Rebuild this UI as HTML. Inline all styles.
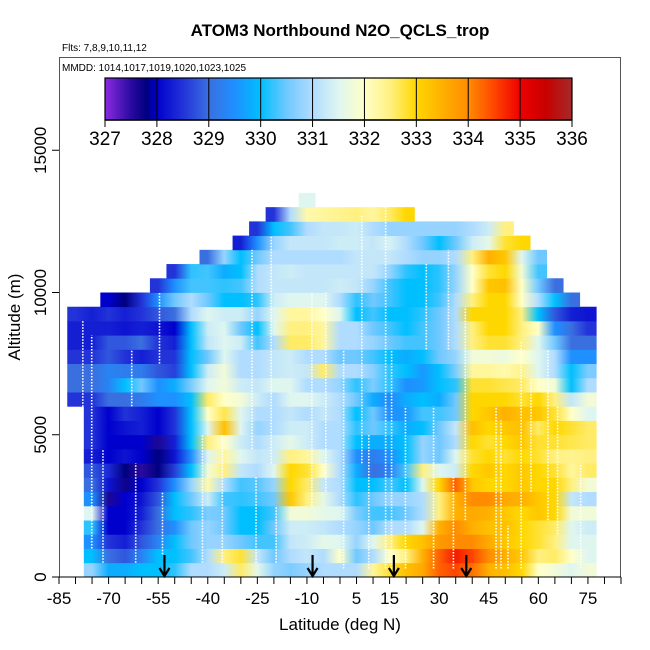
<!DOCTYPE html>
<html><head><meta charset="utf-8"><style>
html,body{margin:0;padding:0;background:#fff;}
svg{display:block;font-family:"Liberation Sans",Arial,sans-serif;}
</style></head><body>
<svg id="chart" width="650" height="650" viewBox="0 0 650 650" xmlns="http://www.w3.org/2000/svg">
<defs id="defs"><linearGradient id="cbgrad" x1="0" x2="1" y1="0" y2="0"></linearGradient></defs>
<rect width="650" height="650" fill="#fff"/>
<text x="340" y="36" text-anchor="middle" font-size="17" font-weight="bold">ATOM3 Northbound N2O_QCLS_trop</text>
<text x="62" y="51" font-size="10">Flts: 7,8,9,10,11,12</text>
<text x="62" y="71" font-size="10">MMDD: 1014,1017,1019,1020,1023,1025</text>
<g id="cells"></g>
<g id="tracks"></g>
<g id="arrows"></g>
<rect x="59.5" y="57.5" width="561" height="519.5" fill="none" stroke="#555" stroke-width="1"/>
<g id="xaxis"></g>
<g id="yaxis"></g>
<text x="340" y="630" text-anchor="middle" font-size="17">Latitude (deg N)</text>
<text x="20" y="317" text-anchor="middle" font-size="17" transform="rotate(-90 20 317)">Altitude (m)</text>
<g id="colorbar"></g>
</svg>
<script>
const latCenters = [-80,-75,-70,-65,-60,-55,-50,-45,-40,-35,-30,-25,-20,-15,-10,-5,0,5,10,15,20,25,30,35,40,45,50,55,60,65,70,75];
const altBase = [0,500,1000,1500,2000,2500,3000,3500,4000,4500,5000,5500,6000,6500,7000,7500,8000,8500,9000,9500,10000,10500,11000,11500,12000,12500,13000];
const r00=[null,330.8,329.8,329.8,330,330,330.2,331,331,331.3,332.6,331.6,330.8,330.6,330.8,331,331,331,332.3,332.8,333.3,333.6,334.3,334.5,334.2,333.5,333.3,333,332,331.8,331.5,331.8];
const r01=[null,330,329,328.8,329.3,330,330,330.3,331,332.5,332.8,331.2,330.5,331,331.2,331,332,330.5,331,332,332.5,333.5,334.3,334.8,334.5,334,333.5,333.2,332.5,332.6,332,331.5];
const r02=[null,329.5,328.5,328.3,328.8,329.3,330,330.5,330.8,330.8,330.5,330.3,330.3,331.2,331.3,331.6,331.5,330.8,331.5,332.5,333,333.3,333.8,334,334,333.6,333.2,333,332.8,332.5,331.5,331.5];
const r03=[null,330.2,328,328,328.5,329,329.5,330.5,330.8,330.5,330,330,330.5,331.3,331.3,331.2,331,330.8,330.5,331,331,331.5,333.5,334,333.5,333.3,333.3,333,332.8,332.6,331.5,331.3];
const r04=[null,331.5,328,328,328.3,329,330,330.2,330.6,330.5,330,330,330.3,331.8,331.8,331.6,331.5,330.6,330.3,330.3,330.5,331,332.5,333.5,333.6,333.5,333.2,333,333.2,333,331.8,331.8];
const r05=[null,329.5,327.6,328,328.2,328.8,330,330.5,331.3,330.3,330.2,330.3,330.5,333.2,332.5,331.6,331,330.2,330.5,330.8,330.8,331,332.5,333.5,334,334,333.6,333.5,333.2,333,331.2,331];
const r06=[null,329,328.2,327.7,328,328.5,329.5,330.8,332.2,331,330.3,330.4,330.8,333,332.6,331.2,331,330,330,330.3,330,331.5,333,334.3,333.2,333,333,333.2,333,333,332.5,331.8];
const r07=[null,328.8,328.4,327.8,327.5,327.8,328.6,330,331.8,332.5,331.2,331,331.5,333,332.8,332,331,329.8,329,329.3,330.3,332.5,331.5,331.3,333,333.2,333,333.2,333,332.8,332.3,332.6];
const r08=[null,328.3,328,328.2,328,327.8,328.2,329.5,331.5,332.3,331.5,331.2,331.3,332.5,332.3,331.5,331,329.5,329.2,329.5,330,330.8,330.5,331.5,332.8,333,332.8,333,332.8,332.5,332.4,332.5];
const r09=[null,328.5,328,328,328,327.6,328.3,330,332.5,332,331.3,331,331.3,331.6,331.3,331,331,330,329.8,329.8,330,330.8,330.5,331,333,332.8,333,333.2,332.8,332.8,332.7,332.6];
const r10=[null,328.5,328,328.2,328.3,328,328.5,330,331.5,333.3,331.5,330.8,331,331.3,331.3,331,331,330.2,330.5,330.2,329.8,330,330.5,331.2,333.3,333,333.2,333.3,332.6,333,332.8,332.6];
const r11=[null,328.5,328,328.5,328.3,328,328.5,330,332,332.7,331.5,331,331,331.2,331,331.2,331,330,330.5,329.5,329.6,330.3,330.3,330.5,333,333.2,333.5,333.3,333.2,332.8,332,331.5];
const r12=[328.5,328.5,329,329,329.2,329.5,329.5,330,332.6,332,331.8,331.3,331,331.5,331.5,331.3,331,330.5,329.8,329.4,329.8,330,329.8,330.5,333,333,333,332.8,333,332.5,331.2,331.8];
const r13=[329,329,329.3,330,330.5,329.5,329.8,330.6,331.5,331.8,331.3,331.2,331.5,331.5,331,331,330.8,330.2,330.6,330.2,329.5,329.6,330,330.2,332.8,332.8,332.7,332.6,332,331.8,330,331];
const r14=[329,329,329.3,329.2,329.2,328.8,328.6,330,331.3,331.8,331,331,331.2,331.3,331.2,332.6,331,331,330.7,330.2,330,329.6,330,330.6,332.3,332.3,332.2,332.4,331.5,331,330,330.6];
const r15=[328.5,328.5,328.8,328.5,328.3,328.5,328.5,330,330.5,331.5,331,331,331.2,331.3,331,331,330.5,330.5,330.3,330,329.8,330,330.5,330.8,331.8,331.8,331.7,332,331.5,331,329.5,329.5];
const r16=[328.3,328.3,328.8,328.8,329,328.5,328.3,330,331.2,331.5,331.3,330.3,331,332.6,332.6,332.3,331,331,330.8,330.5,330.3,330.3,330.5,331,332.5,332.8,332.8,332.5,331.5,330.5,329,329];
const r17=[328.3,328.3,328.3,328.2,328.3,328.2,328,330,331.3,331.5,330.5,330,331.5,332.5,332.5,332.3,331,331,330.5,330.3,330,330.3,330.5,331,332.5,333,333,332.5,332,329.5,329,328.5];
const r18=[328.5,328.3,328.5,328.3,328.5,328.8,329,331,331.5,331.3,331.3,330.8,331.5,332.3,332.3,332,331.5,330,330.3,330,330,330.2,330.5,331,333,333,333,332.5,330,328.8,328.3,328.2];
const r19=[null,null,328,327.8,328.5,329.5,330.5,331,330.5,330,330,330.2,331.3,331.5,331.5,331.5,331,330.2,330.5,330.3,330,330,330.3,331,332.5,333,333,332,331,330,329,null];
const r20=[null,null,null,null,null,328.5,329.5,330.3,330.3,330.2,330.3,331,331.2,331.2,331.2,331.2,331.3,331.2,330.8,330.3,330,330,330.2,330.8,332,333.2,333.3,332,330.5,329,null,null];
const r21=[null,null,null,null,null,null,328.5,330.2,330.3,329.8,330,331,331.2,331.3,331.2,331.2,331.2,331.2,331.2,330.8,330.2,330,330.2,330.8,332,332.8,333,331.8,330.3,null,null,null];
const r22=[null,null,null,null,null,null,null,null,329,330.8,330,330.5,331,331,331,331,331,331.2,331.2,331.2,331,330.8,330.8,331,332.5,333.5,333.2,331.5,330.5,null,null,null];
const r23=[null,null,null,null,null,null,null,null,null,null,328.3,329.5,330.8,331.2,331.2,331.2,331.3,331.3,331.2,331.4,331,330.5,330,330.5,331.3,331.6,332.8,333,null,null,null,null];
const r24=[null,null,null,null,null,null,null,null,null,null,null,328.5,330,330.3,331,331.2,331.2,331.3,331,330.8,330.8,330.8,330.8,330.8,331,331.3,332.5,null,null,null,null,null];
const r25=[null,null,null,null,null,null,null,null,null,null,null,null,328.5,331,332.2,332.3,332.4,332.5,332.3,332.6,333,null,null,null,null,null,null,null,null,null,null,null];
const r26=[null,null,null,null,null,null,null,null,null,null,null,null,null,null,331.5,null,null,null,null,null,null,null,null,null,null,null,null,null,null,null,null,null];
const n2oRows=[r00,r01,r02,r03,r04,r05,r06,r07,r08,r09,r10,r11,r12,r13,r14,r15,r16,r17,r18,r19,r20,r21,r22,r23,r24,r25,r26];
const trackLat=[-77.8,-75.1,-71.7,-63,-61.8,-54.6,-53.7,-41.6,-35.6,-25.4,-19.3,-26.6,-20.8,-8.5,-4.3,1.1,6.6,8.7,13.8,15.6,19.8,26.1,28.3,32.8,34.3,37.9,47.2,48.7,50.8,54.8,57.8,62.9,65.8,72.8,78.6];
const trackBot=[500,1000,500,6000,500,7500,800,500,500,500,500,4500,4000,2500,3000,300,4000,300,300,300,300,8000,300,8000,300,2000,300,300,300,300,3000,2000,1500,300,1000];
const trackTop=[9000,8500,4500,8000,4000,10000,3000,5000,5000,3500,2500,11500,12000,10000,10000,8000,12700,5000,13000,8000,6000,11000,6000,11500,3500,9500,6000,5500,1800,8300,7000,8000,6000,4000,7000];
const arrowLat=[-53.1,-8.3,16.3,38.2];
const xTickVals=[-85,-80,-75,-70,-65,-60,-55,-50,-45,-40,-35,-30,-25,-20,-15,-10,-5,0,5,10,15,20,25,30,35,40,45,50,55,60,65,70,75,80,85];
const xLabels=[-85,-70,-55,-40,-25,-10,5,15,30,45,60,75];
const yTicks=[0,5000,10000,15000];
const cbTicks=[327,328,329,330,331,332,333,334,335,336];
const colorStopVals=[327,327.5,327.8,328,328.5,329,329.5,330,330.5,331,331.5,332,332.5,333,333.5,334,334.5,335,335.5,336];
const colorStopHex=["#8a2be2","#2a0aa0","#000080","#0000cd","#2233d8","#3a6fe0","#1e90ff","#00bfff","#70c8ff","#b0dcff","#dff6f0","#ffffc8","#fff080","#ffd700","#ffb000","#ff8c00","#ff4500","#ee0000","#c80000","#a52a2a"];

const NS="http://www.w3.org/2000/svg";
const xs=l=>59+(l+85)*(562/170);
const ys=a=>577-a*0.02845;
const cbx=v=>105+(v-327)*(467/9);
function hex2rgb(h){return [1,3,5].map(i=>parseInt(h.substr(i,2),16));}
function color(v){
  if(v<=colorStopVals[0])return colorStopHex[0];
  for(let i=1;i<colorStopVals.length;i++){
    if(v<=colorStopVals[i]){
      const t=(v-colorStopVals[i-1])/(colorStopVals[i]-colorStopVals[i-1]);
      const a=hex2rgb(colorStopHex[i-1]),b=hex2rgb(colorStopHex[i]);
      return "rgb("+a.map((c,k)=>Math.round(c+(b[k]-c)*t)).join(",")+")";
    }
  }
  return colorStopHex[colorStopHex.length-1];
}
function mk(tag,attrs,parent){const e=document.createElementNS(NS,tag);for(const k in attrs)e.setAttribute(k,attrs[k]);parent.appendChild(e);return e;}

const defs=document.getElementById("defs");
const cells=document.getElementById("cells");
n2oRows.forEach((row,k)=>{
  const a0=altBase[k];
  // row gradient: stops at each cell centre, colours interpolated horizontally
  const gid="rowgrad"+k;
  const g=mk("linearGradient",{id:gid,gradientUnits:"userSpaceOnUse",x1:xs(-85),x2:xs(85),y1:0,y2:0},defs);
  const span=xs(85)-xs(-85);
  row.forEach((v,i)=>{
    if(v===null||v===undefined)return;
    const c=latCenters[i];
    const prevNull=(i===0||row[i-1]===null);
    const nextNull=(i===row.length-1||row[i+1]===null);
    if(prevNull) mk("stop",{offset:((xs(c-2.5)-xs(-85))/span).toFixed(5),"stop-color":color(v)},g);
    mk("stop",{offset:((xs(c)-xs(-85))/span).toFixed(5),"stop-color":color(v)},g);
    if(nextNull) mk("stop",{offset:((xs(c+2.5)-xs(-85))/span).toFixed(5),"stop-color":color(v)},g);
  });
  row.forEach((v,i)=>{
    if(v===null||v===undefined)return;
    const c=latCenters[i];
    const x0=xs(c-2.5),x1=xs(c+2.5);
    const r=mk("rect",{x:x0.toFixed(2),y:ys(a0+500).toFixed(2),width:(x1-x0+0.4).toFixed(2),height:(ys(a0)-ys(a0+500)+0.4).toFixed(2),fill:"url(#"+gid+")"},cells);
    
    
  });
});

const tracks=document.getElementById("tracks");
trackLat.forEach((l,i)=>{
  const ln=mk("line",{x1:xs(l),x2:xs(l),y1:ys(trackBot[i]),y2:ys(trackTop[i]),stroke:"#fff","stroke-width":1.6,"stroke-dasharray":"1.5 1.5"},tracks);
  
  
});

const arrows=document.getElementById("arrows");
arrowLat.forEach(l=>{
  const x=xs(l);
  const g=mk("g",{},arrows);
  
  
  mk("line",{x1:x,x2:x,y1:555,y2:576,stroke:"#000","stroke-width":2.2},g);
  mk("polyline",{points:(x-5)+",568 "+x+",576 "+(x+5)+",568",fill:"none",stroke:"#000","stroke-width":2.2},g);
});

const xa=document.getElementById("xaxis");
mk("line",{x1:59,x2:621,y1:577,y2:577,stroke:"#000","stroke-width":1},xa);
xTickVals.forEach(v=>{
  const t=mk("line",{x1:xs(v),x2:xs(v),y1:577,y2:584,stroke:"#000","stroke-width":1},xa);
  
  
});
xLabels.forEach(v=>{
  const t=mk("text",{x:xs(v),y:604,"text-anchor":"middle","font-size":17},xa);
  t.textContent=String(v);
  
  
});

const ya=document.getElementById("yaxis");
yTicks.forEach(v=>{
  const y=ys(v);
  const tk=mk("line",{x1:52,x2:59,y1:y,y2:y,stroke:"#000","stroke-width":1},ya);
  
  
  const t=mk("text",{x:46,y:y,"text-anchor":"middle","font-size":17,transform:"rotate(-90 46 "+y+")"},ya);
  t.textContent=String(v);
  
  
});

const grad=document.getElementById("cbgrad");
colorStopVals.forEach((v,i)=>{mk("stop",{offset:((v-327)/9).toFixed(4),"stop-color":colorStopHex[i]},grad);});
const cb=document.getElementById("colorbar");
mk("rect",{x:105,y:78,width:467,height:42,fill:"url(#cbgrad)"},cb);
cbTicks.forEach(v=>{
  const x=cbx(v);
  mk("line",{x1:x,x2:x,y1:78,y2:127,stroke:"#000","stroke-width":1},cb);
  const t=mk("text",{x:x,y:145,"text-anchor":"middle","font-size":19},cb);
  t.textContent=String(v);
  
  
});
mk("rect",{x:105,y:78,width:467,height:42,fill:"none",stroke:"#000","stroke-width":1.2},cb);
mk("line",{x1:105,x2:572,y1:120,y2:120,stroke:"#000","stroke-width":1.5},cb);
</script>
</body></html>
